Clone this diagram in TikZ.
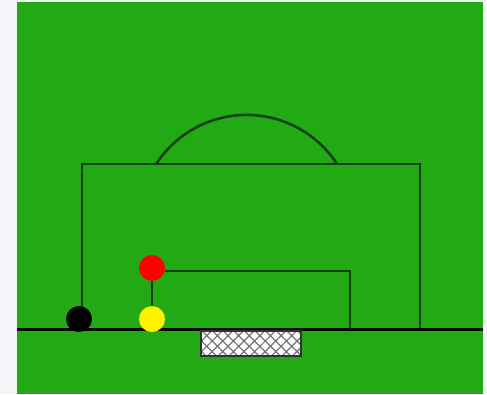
\documentclass[tikz,border=0pt]{standalone}
\usetikzlibrary{positioning,patterns.meta}
\definecolor{pitchgreen}{RGB}{34,170,20}
\definecolor{chalk}{RGB}{24,64,24}
\definecolor{pagegray}{RGB}{244,245,248}
\tikzset{
  pitchline/.style={draw=chalk, line width=2.6pt},
  goalline/.style={draw=black!85!chalk, line width=3pt},
  player/.style={circle, minimum size=26pt, inner sep=0pt},
  netbox/.style={draw=black!80, line width=1.4pt, preaction={fill=white}, pattern={Hatch[angle=45,distance=7.5pt,line width=1.2pt]}, pattern color=black!55}
}

\begin{document}
\begin{tikzpicture}[x=1pt, y=-1pt]
  \useasboundingbox (0,0) rectangle (487,394);
  \fill[pagegray] (0,0) rectangle (487,394);
  \fill[pitchgreen] (17,2) rectangle (483,394);
  % penalty area and arc
  \draw[pitchline] (82,329) |- (420,164) -- (420,329);
  \draw[pitchline] (337,164) arc[start angle=-33, end angle=-147, radius=107.8];
  % goal line and goal
  \draw[goalline] (17,329) -- (483,329);
  \draw[netbox] (201,331) rectangle (301,356);
  % players
  \node[player, fill=red] (red) at (152,268) {};
  \node[player, fill=yellow] (yellow) at (152,319) {};
  \node[player, fill=black] (black) at (79,319) {};
  \draw[pitchline] (red) -- (yellow);
  \draw[pitchline] (red.east |- 0,271) -- (350,271) -- (350,329);
\end{tikzpicture}
\end{document}
